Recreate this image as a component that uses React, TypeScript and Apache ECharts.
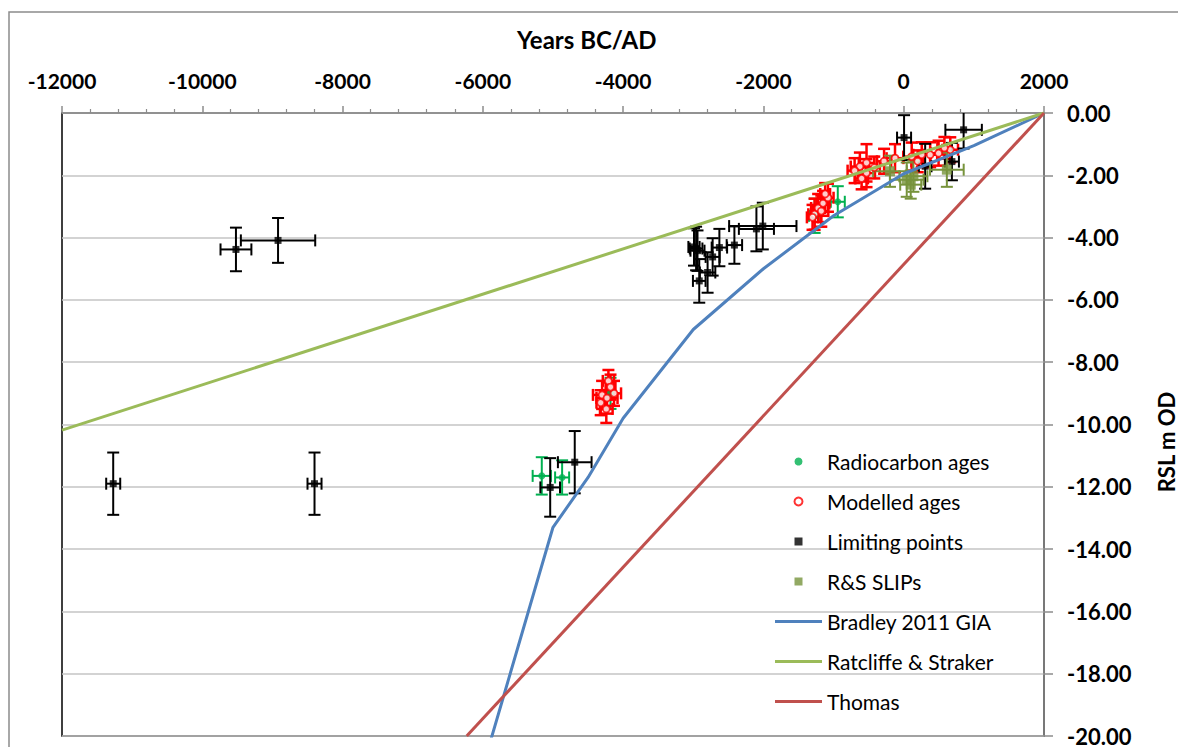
import React, { useEffect, useRef } from "react";
import * as echarts from "echarts";

// [year, RSL, yearError, RSLError]
const radiocarbonAges = [
  [-5160, -11.65, 130, 0.6],
  [-4870, -11.7, 100, 0.55],
  [-4180, -9.0, 40, 0.5],
  [-940, -2.85, 100, 0.5],
  [-1270, -3.3, 80, 0.55],
];

const modelledAges = [
  [-4300, -9.05, 130, 0.45],
  [-4230, -9.15, 150, 0.5],
  [-4130, -9.0, 100, 0.4],
  [-4210, -8.6, 80, 0.35],
  [-4240, -9.5, 90, 0.45],
  [-4320, -9.3, 60, 0.4],
  [-4180, -8.8, 70, 0.4],
  [-1270, -3.25, 90, 0.5],
  [-1220, -3.05, 100, 0.45],
  [-1150, -2.9, 90, 0.4],
  [-1080, -2.72, 80, 0.45],
  [-1175, -3.15, 100, 0.5],
  [-1300, -3.35, 80, 0.4],
  [-1120, -2.6, 70, 0.35],
  [-530, -1.6, 110, 0.6],
  [-625, -1.72, 130, 0.45],
  [-530, -1.93, 120, 0.45],
  [-700, -1.85, 100, 0.4],
  [-420, -1.75, 80, 0.35],
  [-600, -2.1, 90, 0.35],
  [-280, -1.55, 100, 0.4],
  [-124, -1.45, 120, 0.45],
  [114, -1.4, 120, 0.45],
  [257, -1.34, 120, 0.4],
  [377, -1.34, 100, 0.4],
  [497, -1.29, 110, 0.4],
  [664, -1.18, 110, 0.4],
  [580, -1.12, 100, 0.35],
  [200, -1.55, 90, 0.35],
];

const limitingPoints = [
  [-11270, -11.9, 100, 1.0],
  [-8400, -11.9, 100, 1.0],
  [-9520, -4.38, 220, 0.7],
  [-8920, -4.09, 530, 0.72],
  [-5040, -12.02, 140, 0.94],
  [-4690, -11.21, 240, 1.0],
  [-2960, -4.35, 90, 0.7],
  [-2940, -4.42, 100, 0.65],
  [-2990, -4.3, 80, 0.6],
  [-2724, -4.62, 100, 0.6],
  [-2628, -4.32, 110, 0.6],
  [-2414, -4.24, 110, 0.6],
  [-2796, -5.12, 110, 0.65],
  [-2915, -5.39, 90, 0.7],
  [-2100, -3.72, 250, 0.72],
  [-2009, -3.63, 480, 0.75],
  [5, -0.79, 100, 0.72],
  [854, -0.54, 260, 0.6],
  [306, -1.71, 90, 0.72],
  [687, -1.56, 100, 0.6],
];

const rsSlips = [
  [-196, -1.87, 240, 0.5],
  [43, -2.14, 240, 0.55],
  [138, -2.03, 200, 0.5],
  [615, -1.82, 240, 0.55],
  [100, -2.3, 150, 0.45],
];

const bradleyGIA = [
  [2000, 0],
  [1000, -1.05],
  [0, -1.95],
  [-1000, -3.3],
  [-2000, -5.0],
  [-3000, -6.95],
  [-4000, -9.8],
  [-4500, -11.7],
  [-5000, -13.3],
  [-6000, -21.0],
];

const ratcliffeStraker = [
  [-12000, -10.18],
  [2000, 0],
];

const thomas = [
  [-6230, -20],
  [2000, 0],
];

const legendNames = [
  "Radiocarbon ages",
  "Modelled ages",
  "Limiting points",
  "R&S SLIPs",
  "Bradley 2011 GIA",
  "Ratcliffe & Straker",
  "Thomas",
];

const xTicks = { min: -12000, max: 2000, interval: 2000 };
const yTicks = { min: -20, max: 0, interval: 2 };

const FONT = "Lato, 'Noto Sans', sans-serif";
const SQUARE = "path://M0,0L10,0L10,10L0,10Z";
const BAR = "path://M0,0L47,0L47,3L0,3Z";

function errorBars(name: string, data: number[][], color: string, width: number) {
  return {
    type: "custom",
    name,
    data,
    silent: true,
    clip: true,
    z: 2,
    encode: { x: 0, y: 1 },
    renderItem: (params: any, api: any) => {
      const x = api.value(0);
      const y = api.value(1);
      const ex = api.value(2);
      const ey = api.value(3);
      const l = api.coord([x - ex, y]);
      const r = api.coord([x + ex, y]);
      const t = api.coord([x, y + ey]);
      const b = api.coord([x, y - ey]);
      const cap = 6;
      const style = { stroke: color, lineWidth: width, fill: null };
      const ln = (x1: number, y1: number, x2: number, y2: number) => ({
        type: "line",
        shape: { x1, y1, x2, y2 },
        style,
      });
      return {
        type: "group",
        children: [
          ln(l[0], l[1], r[0], r[1]),
          ln(l[0], l[1] - cap, l[0], l[1] + cap),
          ln(r[0], r[1] - cap, r[0], r[1] + cap),
          ln(t[0], t[1], b[0], b[1]),
          ln(t[0] - cap, t[1], t[0] + cap, t[1]),
          ln(b[0] - cap, b[1], b[0] + cap, b[1]),
        ],
      };
    },
  };
}

const xy = (d: number[][]) => d.map((p) => [p[0], p[1]]);

export default function App() {
  const ref = useRef<HTMLDivElement>(null);
  useEffect(() => {
    if (!ref.current) return;
    const chart = echarts.init(ref.current, undefined, { renderer: "svg" });
    chart.setOption({
      animation: false,
      backgroundColor: "#ffffff",
      textStyle: { fontFamily: FONT },
      title: {
        text: "Years BC/AD",
        left: 512,
        top: 22,
        textStyle: { fontFamily: FONT, fontWeight: "bold", fontSize: 24, color: "#000" },
      },
      graphic: [
        {
          type: "rect",
          shape: { x: 9, y: 12, width: 1300, height: 900 },
          style: { fill: "none", stroke: "#8c8c8c", lineWidth: 1.5 },
          z: -10,
          silent: true,
        },
        {
          type: "text",
          x: 1166,
          y: 442,
          rotation: Math.PI / 2,
          style: {
            text: "RSL m OD",
            fontFamily: FONT,
            fontWeight: "bold",
            fontSize: 22,
            fill: "#000",
            align: "center",
            verticalAlign: "middle",
          },
        },
      ],
      grid: {
        left: 62,
        right: 134,
        top: 113,
        bottom: 8,
        show: true,
        borderColor: "#000",
        borderWidth: 1.5,
        backgroundColor: "transparent",
      },
      legend: {
        orient: "vertical",
        left: 775,
        top: 451,
        padding: 0,
        itemWidth: 47,
        itemHeight: 8,
        itemGap: 19,
        symbolKeepAspect: true,
        textStyle: { fontFamily: FONT, fontSize: 21, color: "#000", lineHeight: 21 },
        data: [
          { name: legendNames[0], icon: "circle" },
          { name: legendNames[1], icon: "circle" },
          { name: legendNames[2], icon: SQUARE },
          { name: legendNames[3], icon: SQUARE },
          { name: legendNames[4], icon: BAR },
          { name: legendNames[5], icon: BAR },
          { name: legendNames[6], icon: BAR },
        ],
      },
      xAxis: {
        type: "value",
        position: "top",
        min: xTicks.min,
        max: xTicks.max,
        interval: xTicks.interval,
        axisLine: { show: true, onZero: false, lineStyle: { color: "#8c8c8c", width: 1.5 } },
        axisTick: { show: true, length: 7, lineStyle: { color: "#8c8c8c", width: 1.5 } },
        minorTick: { show: true, splitNumber: 5, length: 4, lineStyle: { color: "#8c8c8c", width: 1.2 } },
        splitLine: { show: false },
        axisLabel: {
          margin: 22,
          fontFamily: FONT,
          fontWeight: "bold",
          fontSize: 21,
          color: "#000",
          formatter: (v: number) => String(v),
        },
      },
      yAxis: {
        type: "value",
        position: "right",
        min: yTicks.min,
        max: yTicks.max,
        interval: yTicks.interval,
        axisLine: { show: true, onZero: false, lineStyle: { color: "#8c8c8c", width: 1.5 } },
        axisTick: { show: true, length: 9, lineStyle: { color: "#8c8c8c", width: 1.5 } },
        splitLine: { show: true, lineStyle: { color: "#c4c4c4", width: 1.5 } },
        axisLabel: {
          margin: 23,
          fontFamily: FONT,
          fontWeight: "bold",
          fontSize: 22,
          color: "#000",
          formatter: (v: number) => v.toFixed(2),
        },
      },
      series: [
        errorBars("rc-err", radiocarbonAges, "#00b050", 2),
        errorBars("mod-err", modelledAges, "#ff0000", 2.5),
        errorBars("lim-err", limitingPoints, "#000000", 2),
        errorBars("slip-err", rsSlips, "#77933c", 2),
        {
          type: "scatter",
          name: legendNames[0],
          data: xy(radiocarbonAges),
          symbol: "circle",
          symbolSize: 7,
          itemStyle: { color: "#00b050" },
          z: 3,
        },
        {
          type: "scatter",
          name: legendNames[1],
          data: xy(modelledAges),
          symbol: "circle",
          symbolSize: 7,
          itemStyle: { color: "#ffffff", borderColor: "#ff0000", borderWidth: 1.8 },
          z: 3,
        },
        {
          type: "scatter",
          name: legendNames[2],
          data: xy(limitingPoints),
          symbol: "rect",
          symbolSize: 7,
          itemStyle: { color: "#000000" },
          z: 3,
        },
        {
          type: "scatter",
          name: legendNames[3],
          data: xy(rsSlips),
          symbol: "rect",
          symbolSize: 10,
          itemStyle: { color: "#77933c" },
          z: 3,
        },
        {
          type: "line",
          name: legendNames[4],
          data: bradleyGIA,
          symbol: "none",
          lineStyle: { color: "#4f81bd", width: 3 },
          itemStyle: { color: "#4f81bd" },
          z: 4,
        },
        {
          type: "line",
          name: legendNames[5],
          data: ratcliffeStraker,
          symbol: "none",
          lineStyle: { color: "#9bbb59", width: 3 },
          itemStyle: { color: "#9bbb59" },
          z: 4,
        },
        {
          type: "line",
          name: legendNames[6],
          data: thomas,
          symbol: "none",
          lineStyle: { color: "#c0504d", width: 3 },
          itemStyle: { color: "#c0504d" },
          z: 4,
        },
      ],
    });
    return () => chart.dispose();
  }, []);
  return (
    <div
      ref={ref}
      style={{ position: "fixed", left: 0, top: 0, width: 1178, height: 747 }}
    />
  );
}
